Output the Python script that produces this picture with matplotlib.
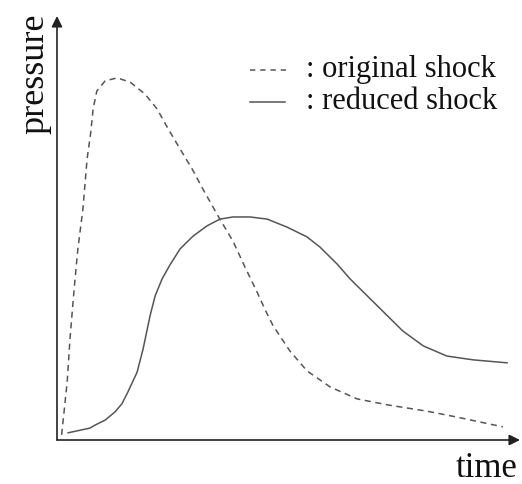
import matplotlib
matplotlib.use("Agg")
import matplotlib.pyplot as plt
from matplotlib.lines import Line2D

# values (time and pressure in arbitrary 0-100 units)
orig_time = [1.0, 2.2, 2.8, 3.7, 4.5, 5.6, 6.5, 7.3, 7.8, 8.6, 10.4, 13.0,
             15.8, 19.0, 21.6, 24.0, 26.6, 29.2, 31.5, 34.8, 38.0, 40.6,
             43.2, 45.4, 46.7, 50.3, 54.0, 59.0, 64.8, 71.3, 79.9, 86.4,
             96.3]
orig_pressure = [1.2, 13.7, 23.8, 35.6, 45.0, 54.5, 66.3, 72.6, 78.1, 82.3,
                 84.7, 85.4, 84.4, 81.6, 78.1, 73.4, 68.6, 63.9, 59.2, 52.8,
                 46.9, 40.8, 34.9, 29.7, 26.9, 21.0, 16.3, 12.5, 9.7, 8.3,
                 6.8, 5.4, 3.1]

red_time = [2.4, 7.1, 8.2, 10.4, 12.5, 14.0, 15.3, 17.3, 18.6, 20.1, 21.2,
            22.7, 24.4, 26.6, 29.4, 32.4, 35.2, 38.0, 41.7, 45.4, 49.7,
            54.0, 56.8, 60.5, 63.3, 68.3, 74.7, 79.1, 84.2, 89.9, 97.2]
red_pressure = [1.7, 2.8, 3.5, 4.7, 6.6, 8.5, 11.3, 16.0, 21.5, 29.3, 34.0,
                38.0, 41.3, 45.1, 48.1, 50.5, 52.1, 52.6, 52.6, 52.1, 50.2,
                47.9, 45.5, 41.5, 38.0, 32.6, 25.7, 22.2, 19.8, 18.9, 18.2]

legend_labels = [": original shock", ": reduced shock"]

plt.rcParams["font.family"] = ["Liberation Serif", "DejaVu Serif"]

W, H = 522, 485
fig = plt.figure(figsize=(W / 100, H / 100), dpi=100)
ax = fig.add_axes([57 / W, (H - 441) / H, (520 - 57) / W, (441 - 17) / H])
ax.set_xlim(0, 100)
ax.set_ylim(0, 100)
for s in ax.spines.values():
    s.set_visible(False)
ax.set_xticks([])
ax.set_yticks([])

curve_col = "#555555"
ax.plot(orig_time, orig_pressure, color=curve_col, lw=1.1,
        linestyle=(0, (4.0, 3.0)), dash_joinstyle="round",
        dash_capstyle="butt")
ax.plot(red_time, red_pressure, color=curve_col, lw=1.1,
        solid_joinstyle="round")

# axes with arrow heads
arrow = dict(arrowstyle="-|>", color="#222222", lw=1.2,
             mutation_scale=16, shrinkA=0, shrinkB=0)
ax.annotate("", xy=(0, 1), xytext=(0, 0), xycoords="axes fraction",
            arrowprops=arrow)
ax.annotate("", xy=(1, 0), xytext=(0, 0), xycoords="axes fraction",
            arrowprops=arrow)

# axis labels
fig.text(18 / W, 1 - 13 / H, "pressure", rotation=90, ha="left", va="top",
         fontsize=26, color="#111111")
fig.text(517 / W, 1 - 477 / H, "time", ha="right", va="baseline",
         fontsize=25, color="#111111")

# hand-made legend
fig.add_artist(Line2D([250 / W, 287 / W], [1 - 71 / H, 1 - 71 / H],
                      transform=fig.transFigure, color=curve_col, lw=1.1,
                      linestyle=(0, (3.5, 3.2))))
fig.add_artist(Line2D([250 / W, 285 / W], [1 - 103 / H, 1 - 103 / H],
                      transform=fig.transFigure, color=curve_col, lw=1.1))
fig.text(306 / W, 1 - 77 / H, legend_labels[0], ha="left", va="baseline",
         fontsize=22, color="#111111")
fig.text(306 / W, 1 - 109 / H, legend_labels[1], ha="left", va="baseline",
         fontsize=22, color="#111111")

fig.savefig("out.png", dpi=100)
